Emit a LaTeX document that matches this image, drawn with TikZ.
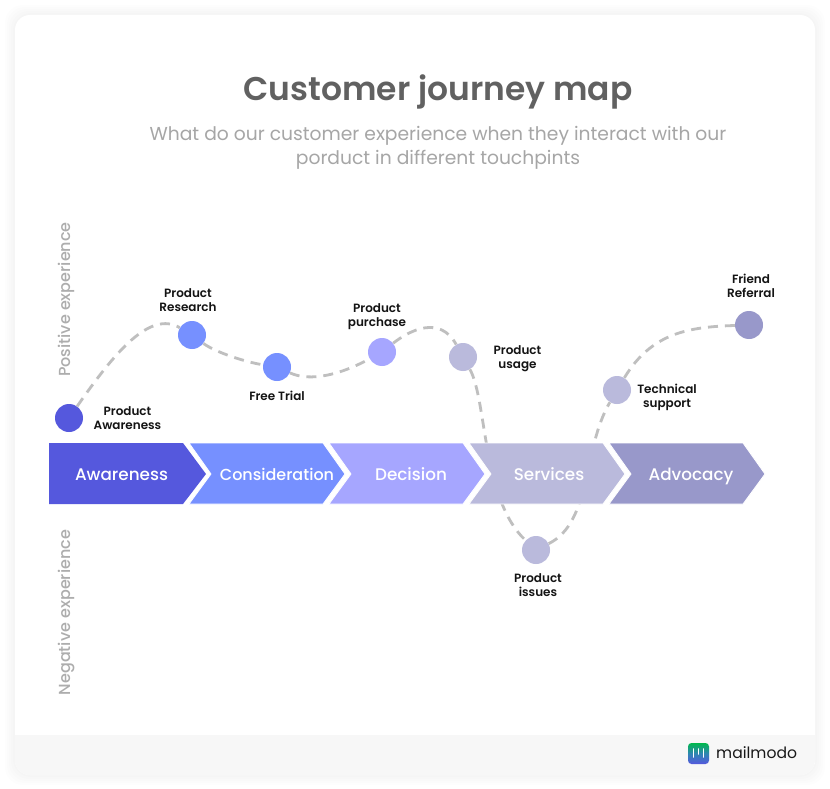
\documentclass[tikz,border=0pt]{standalone}
\usepackage{fontspec}
\setmainfont{Poppins}
\newfontfamily\semifont{Poppins SemiBold}
\newfontfamily\medfont{Poppins Medium}
\usepackage{tikz}
\definecolor{stageA}{HTML}{5558DD}
\definecolor{stageB}{HTML}{7690FF}
\definecolor{stageC}{HTML}{A6A6FF}
\definecolor{stageD}{HTML}{BABADC}
\definecolor{stageE}{HTML}{9898CA}
\tikzset{
	dot/.style={circle,inner sep=0pt,minimum size=28pt},
	lbl/.style={font=\semifont\fontsize{12}{14}\selectfont,align=center,text=black!92},
	stagetext/.style={font=\medfont\fontsize{16.8}{18}\selectfont,text=white,anchor=base},
	sidetext/.style={font=\medfont\fontsize{16}{17}\selectfont,text=black!32,rotate=90},
	journey/.style={draw=black!25,line width=2.8pt,dash pattern=on 10pt off 7pt}
}
\begin{document}
\begin{tikzpicture}[x=1pt,y=-1pt]
	\useasboundingbox (0,0) rectangle (830,789);
	% card with its soft shadow
	\foreach \d in {10,8,...,0}
		\fill[black,opacity=0.006,rounded corners=18pt] (15-\d,15-\d) rectangle (815+\d,775+\d);
	\fill[white,rounded corners=15pt] (15,15) rectangle (815,775);
	\begin{scope}
		\clip[rounded corners=15pt] (15,15) rectangle (815,775);
		\fill[black!3] (15,735) rectangle (815,775);
	\end{scope}

	\node (title) at (438,92) {\semifont\fontsize{32.9}{40}\selectfont\textcolor{black!62}{Customer journey map}};
	\node[align=center,text=black!35,font=\fontsize{18.7}{24}\selectfont] (subtitle) at (438,147.5) {What do our customer experience when they interact with our\\porduct in different touchpints};

	\node[sidetext] (positive) at (66,299.5) {Positive experience};
	\node[sidetext] (negative) at (67,612.5) {Negative experience};

	% touchpoints
	\node[dot,fill=stageA] (awarenessdot) at (69,418) {};
	\node[dot,fill=stageB] (researchdot) at (192,335) {};
	\node[dot,fill=stageB] (trialdot) at (277,367) {};
	\node[dot,fill=stageC] (purchasedot) at (382,352) {};
	\node[dot,fill=stageD] (usagedot) at (463,357) {};
	\node[dot,fill=stageD] (issuesdot) at (536,550) {};
	\node[dot,fill=stageD] (supportdot) at (617,390) {};
	\node[dot,fill=stageE] (referraldot) at (749,325) {};

	\draw[journey] (awarenessdot) .. controls (115,352) and (150,310) .. (researchdot);
	\draw[journey] (researchdot) .. controls (215,352) and (245,362) .. (trialdot);
	\draw[journey] (trialdot) .. controls (310,382) and (340,375) .. (purchasedot);
	\draw[journey] (purchasedot) .. controls (410,330) and (440,315) .. (usagedot);
	\draw[journey] (usagedot) .. controls (487,400) and (482,500) .. (issuesdot);
	\draw[journey] (issuesdot) .. controls (592,522) and (582,450) .. (supportdot);
	\draw[journey] (supportdot) .. controls (652,332) and (690,327) .. (referraldot);

	% stages
	\fill[stageA] (49,443) -- (183,443) -- (206,474) -- (183,504) -- (49,504) -- cycle;
	\foreach \l/\r/\c in {189/323/stageB,329/463/stageC,469/603/stageD,609/743/stageE}
		\path[fill=\c,draw=white,line width=0.8pt] (\l,443) -- (\r,443) -- (\r+22,474) -- (\r,504) -- (\l,504) -- (\l+22,474) -- cycle;
	\node[stagetext] (awareness) at (121.5,480) {Awareness};
	\node[stagetext,font=\medfont\fontsize{16}{18}\selectfont] (consideration) at (277,480) {Consideration};
	\node[stagetext] (decision) at (411,480) {Decision};
	\node[stagetext] (services) at (549,480) {Services};
	\node[stagetext] (advocacy) at (691,480) {Advocacy};

	\node[lbl] (awarenesslbl) at (127.5,418) {Product\\Awareness};
	\node[lbl] (researchlbl) at (188,300) {Product\\Research};
	\node[lbl] (triallbl) at (277,396) {Free Trial};
	\node[lbl] (purchaselbl) at (377,317) {Product\\purchase};
	\node[lbl] (usagelbl) at (517.5,359) {Product\\usage};
	\node[lbl] (issueslbl) at (538,585) {Product\\issues};
	\node[lbl] (supportlbl) at (667,397) {Technical\\support};
	\node[lbl] (referrallbl) at (751,286) {Friend\\Referral};

	% logo
	\shade[top color=green!60!black!70!cyan,bottom color=stageA,middle color=stageB!40!teal,rounded corners=3.5pt] (688,743) rectangle (709,764);
	\foreach \x/\h in {693.5/8,698.5/5,703.5/8}
		\draw[white,line width=1.8pt,line cap=round] (\x,749) -- (\x,749+\h);
	\node[anchor=west,inner sep=0pt,text=black!90,font=\fontsize{15.6}{18}\selectfont] (logotext) at (716,753) {mailmodo};
\end{tikzpicture}
\end{document}
